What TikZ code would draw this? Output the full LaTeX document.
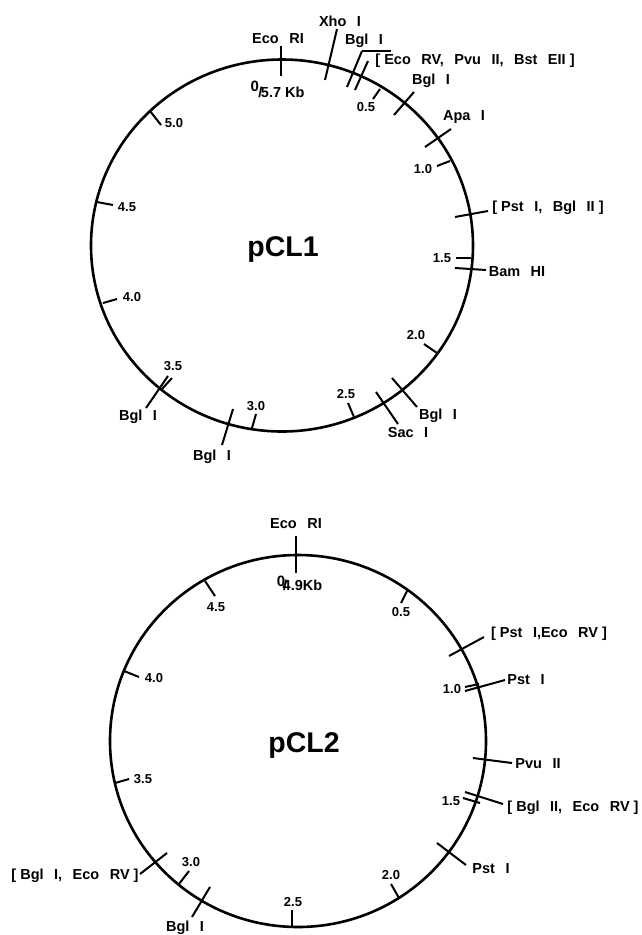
\documentclass[tikz,border=0pt]{standalone}
\usepackage{fontspec}
\setmainfont{Liberation Sans}
\usetikzlibrary{positioning, shapes.geometric}
\newcommand{\wgap}{\hspace{10.5pt}}
\tikzset{
  plasmid/.style={draw=black, line width=2.6pt, ellipse, inner sep=0pt},
  cut/.style={draw=black, line width=2pt},
  site/.style={font=\bfseries\fontsize{14.5}{16}\selectfont, inner sep=0pt},
  kb/.style={font=\bfseries\fontsize{13}{15}\selectfont, inner sep=0pt},
  origin/.style={font=\bfseries\fontsize{14.5}{16}\selectfont, inner sep=0pt, anchor=base},
  title/.style={font=\bfseries\fontsize{28.5}{30}\selectfont, inner sep=0pt}
}
\begin{document}
\begin{tikzpicture}[x=1pt, y=-1pt]
    \useasboundingbox (0,0) rectangle (641,935);
    % first plasmid
    \node[plasmid, minimum width=382pt, minimum height=372pt] (pcl1) at (282,245.5) {};
    \node[title] (name1) at (283,250) {pCL1};
    \node[origin] (zero1) at (277.5,97) {\raisebox{6pt}{\fontsize{15}{15}\selectfont 0}\kern-0.5pt/\kern-1.5pt5.7 Kb};
    \node[site] (eco1) at (278,39) {Eco\wgap RI};
    \node[site] (xho1) at (340,21) {Xho\wgap I};
    \node[site] (bgl1a) at (364,41) {Bgl\wgap I};
    \node[site] (mix1) at (475,61) {[ Eco\wgap RV,\wgap Pvu\wgap II,\wgap Bst\wgap EII ]};
    \node[site] (bgl1b) at (431,81) {Bgl\wgap I};
    \node[site] (apa1) at (464,117) {Apa\wgap I};
    \node[site] (pst1) at (548,208) {[ Pst\wgap I,\wgap Bgl\wgap II ]};
    \node[site] (bam1) at (517,272) {Bam\wgap HI};
    \node[site] (bgl1c) at (438,416) {Bgl\wgap I};
    \node[site] (sac1) at (408,433) {Sac\wgap I};
    \node[site] (bgl1d) at (212,457) {Bgl\wgap I};
    \node[site] (bgl1e) at (138,417) {Bgl\wgap I};
    \node[kb] (k05) at (366,107) {0.5};
    \node[kb] (k10) at (423,169) {1.0};
    \node[kb] (k15) at (442,258) {1.5};
    \node[kb] (k20) at (416,335) {2.0};
    \node[kb] (k25) at (346,394) {2.5};
    \node[kb] (k30) at (256,406) {3.0};
    \node[kb] (k35) at (173,366) {3.5};
    \node[kb] (k40) at (132,297) {4.0};
    \node[kb] (k45) at (127,207) {4.5};
    \node[kb] (k50) at (174,123) {5.0};
    % second plasmid
    \node[plasmid, minimum width=376pt, minimum height=372pt] (pcl2) at (298,741) {};
    \node[title] (name2) at (304,745) {pCL2};
    \node[origin] (zero2) at (299.5,590) {\raisebox{3.5pt}{\fontsize{15}{15}\selectfont 0}\kern-2pt/\kern-4.5pt4.9Kb};
    \node[site] (eco2) at (296,524) {Eco\wgap RI};
    \node[site] (mix2a) at (549,634) {[ Pst\wgap I,Eco\wgap RV ]};
    \node[site] (pst2a) at (526,680) {Pst\wgap I};
    \node[site] (pvu2) at (538,764) {Pvu\wgap II};
    \node[site] (mix2b) at (573,808) {[ Bgl\wgap II,\wgap Eco\wgap RV ]};
    \node[site] (pst2b) at (491,869) {Pst\wgap I};
    \node[site] (mix2c) at (75,876) {[ Bgl\wgap I,\wgap Eco\wgap RV ]};
    \node[site] (bgl2) at (185,928) {Bgl\wgap I};
    \node[kb] (m05) at (401,612) {0.5};
    \node[kb] (m10) at (452,689) {1.0};
    \node[kb] (m15) at (451,801) {1.5};
    \node[kb] (m20) at (391,875) {2.0};
    \node[kb] (m25) at (293,902) {2.5};
    \node[kb] (m30) at (191,862) {3.0};
    \node[kb] (m35) at (143,779) {3.5};
    \node[kb] (m40) at (154,678) {4.0};
    \node[kb] (m45) at (216,607) {4.5};
    % cuts and ticks
    \foreach \cutname/\xa/\ya/\xb/\yb in {
      ca/281/46/281/76, cb/337/29/325/80, cc/362/51/347/87, cd/362/51/391/51,
      ce/368/61/355/90, cf/380/89/373/99, cg/414/92/394/115, ch/451/129/425/147,
      ci/450/161/437/166, cj/488/211/455/217, ck/456/258/471/258, cl/455/268/486/270,
      cm/424/344/437/353, cn/392/378/417/407, co/376/392/398/424, cp/348/403/354/417,
      cq/256/414/252/428, cr/233/409/222/445, cs/172/378/162/389, ct/168/376/146/408,
      cu/117/299/103/303, cv/113/205/97/202, cw/161/125/150/111,
      da/296/536/296/573, db/407/591/401/603, dc/484/637/449/656, dd/465/687/479/684,
      de/465/691/505/680, df/473/758/512/763, dg/463/798/480/803, dh/465/792/503/804,
      di/437/843/466/865, dj/399/898/391/884, dk/292/910/292/926, dl/210/887/192/917,
      dm/189/871/179/884, dn/167/853/140/874, dp/129/779/115/783, dq/139/677/124/671,
      dr/215/596/205/581}
    {
      \coordinate (\cutname a) at (\xa,\ya);
      \coordinate (\cutname b) at (\xb,\yb);
      \draw[cut] (\cutname a) -- (\cutname b);
    }
\end{tikzpicture}
\end{document}
